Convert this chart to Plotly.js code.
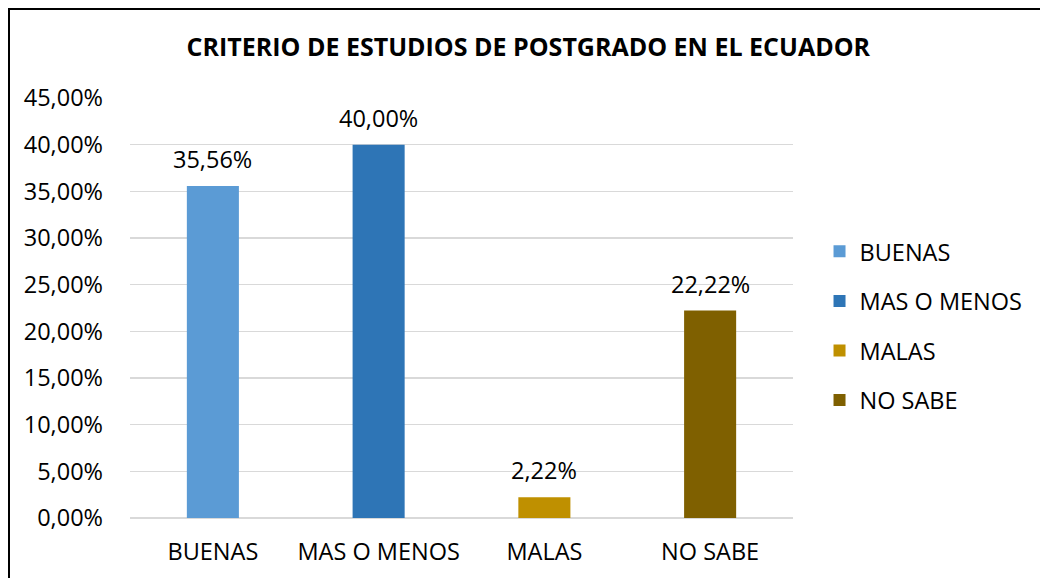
<!DOCTYPE html>
<html>
<head>
<meta charset="utf-8">
<script src="https://cdn.plot.ly/plotly-3.0.1.min.js"></script>
<style>
html,body{margin:0;padding:0;overflow:hidden;background:#fff;}
#wrap{position:relative;width:1040px;height:578px;}
#frame{position:absolute;left:8px;top:8px;width:1100px;height:700px;border:2px solid #000;pointer-events:none;}
</style>
</head>
<body>
<div id="wrap"><div id="chart" style="width:1040px;height:578px;"></div><div id="frame"></div></div>
<script>
const categories = ["BUENAS", "MAS O MENOS", "MALAS", "NO SABE"];
const values = [0.3556, 0.40, 0.0222, 0.2222];
const labels = ["35,56%", "40,00%", "2,22%", "22,22%"];
const colors = ["#5B9BD5", "#2E75B6", "#BF9000", "#7F6000"];
const tickVals = [0, 0.05, 0.10, 0.15, 0.20, 0.25, 0.30, 0.35, 0.40, 0.45];
const tickText = ["0,00%", "5,00%", "10,00%", "15,00%", "20,00%", "25,00%", "30,00%", "35,00%", "40,00%", "45,00%"];

const FONT = "'Open Sans', sans-serif";
const FS = 23.5;

const traces = categories.map((c, i) => ({
  type: "bar",
  x: [c],
  y: [values[i]],
  name: c,
  legendgroup: c,
  marker: {color: colors[i]},
  width: 0.314,
  hoverinfo: "x+y"
}));

const annotations = categories.map((c, i) => ({
  x: c, y: values[i], xref: "x", yref: "y",
  text: labels[i], showarrow: false,
  xanchor: "center", yanchor: "middle", yshift: 27,
  font: {family: FONT, size: FS, color: "#000"}
}));

const layout = {
  width: 1040, height: 578,
  margin: {l: 130, r: 247, t: 98, b: 60},
  paper_bgcolor: "#fff", plot_bgcolor: "#fff",
  barmode: "overlay",
  font: {family: FONT, size: FS, color: "#000"},
  title: {text: "<b>CRITERIO DE ESTUDIOS DE POSTGRADO EN EL ECUADOR</b>", x: 0.508, xanchor: "center", y: 0.918, yanchor: "middle",
          font: {family: FONT, size: 25, color: "#000"}},
  xaxis: {categoryorder: "array", categoryarray: categories, showgrid: false, zeroline: false,
          showline: false, ticks: "", ticklabelstandoff: 17, tickfont: {family: FONT, size: FS, color: "#000"}},
  yaxis: {range: [0, 0.45], tickvals: tickVals, ticktext: tickText, showgrid: true, gridcolor: "#d9d9d9", gridwidth: 1.5,
          zeroline: true, zerolinecolor: "#d9d9d9", zerolinewidth: 1.5, showline: false, ticks: "",
          ticklabelstandoff: 26, tickfont: {family: FONT, size: FS, color: "#000"}},
  showlegend: true,
  legend: {x: 1.04, xanchor: "left", y: 0.457, yanchor: "middle", traceorder: "grouped", tracegroupgap: 16,
           font: {family: FONT, size: FS, color: "#000"}, bgcolor: "rgba(0,0,0,0)"},
  annotations: annotations,
  bargap: 0.686
};

Plotly.newPlot("chart", traces, layout, {displayModeBar: false, staticPlot: true});
</script>
</body>
</html>
